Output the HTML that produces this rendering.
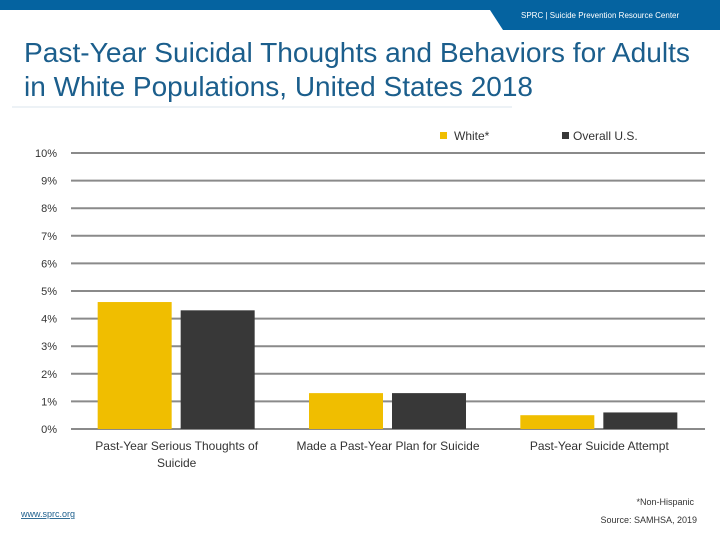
<!DOCTYPE html>
<html><head><meta charset="utf-8"><style>
body{margin:0;width:720px;height:540px;overflow:hidden;background:#fff;font-family:"Liberation Sans",sans-serif;position:relative}
.abs{position:absolute}
</style></head><body>
<svg class="abs" style="left:0;top:0" width="720" height="540">
<rect x="0" y="0" width="720" height="10" fill="#0563a0"/>
<polygon points="490,10 720,10 720,30 503,30" fill="#0563a0"/>
<text x="521" y="18" font-size="8" fill="#fff">SPRC  |  Suicide Prevention Resource Center</text>
<text x="24" y="62" font-size="28" fill="#1b5e8c" textLength="666" lengthAdjust="spacingAndGlyphs">Past-Year Suicidal Thoughts and Behaviors for Adults</text>
<text x="24" y="96" font-size="28" fill="#1b5e8c">in White Populations, United States 2018</text>
<line x1="12" y1="107" x2="512" y2="107" stroke="#dbe6ee" stroke-width="1"/>
<rect x="440" y="132" width="7" height="7" fill="#f0be00"/>
<text x="454" y="140" font-size="12" fill="#333">White*</text>
<rect x="562" y="132" width="7" height="7" fill="#383838"/>
<text x="573" y="140" font-size="12" fill="#333">Overall U.S.</text>
<g id="chart"></g>
<text x="694" y="505" font-size="9" fill="#333" text-anchor="end">*Non-Hispanic</text>
<text x="697" y="523" font-size="9" fill="#333" text-anchor="end">Source: SAMHSA, 2019</text>
<text x="21" y="517" font-size="9" fill="#1b5e8c" text-decoration="underline">www.sprc.org</text>
</svg>
<script>
const categories=[["Past-Year Serious Thoughts of","Suicide"],["Made a Past-Year Plan for Suicide"],["Past-Year Suicide Attempt"]];
const whiteValues=[4.6,1.3,0.5];
const overallValues=[4.3,1.3,0.6];
const tickValues=[0,1,2,3,4,5,6,7,8,9,10];
const tickLabels=["0%","1%","2%","3%","4%","5%","6%","7%","8%","9%","10%"];
const NS="http://www.w3.org/2000/svg";
const g=document.getElementById('chart');
const x0=71,x1=705,yBase=429,yTop=153,vmax=10;
const y=v=>yBase-(v/vmax)*(yBase-yTop);
const gw=(x1-x0)/categories.length;
const cx=i=>x0+gw*(i+0.5);
function mk(t,a){const e=document.createElementNS(NS,t);for(const k in a)e.setAttribute(k,a[k]);g.appendChild(e);return e;}
tickValues.forEach((v,i)=>{
 const l=mk('line',{x1:x0,x2:x1,y1:y(v),y2:y(v),stroke:'#8a8a8a','stroke-width':2});
 
 
 const t=mk('text',{x:57,y:y(v)+4,'font-size':11,fill:'#333','text-anchor':'end'});
 t.textContent=tickLabels[i];
 
 
});
categories.forEach((c,i)=>{
 const b1=mk('rect',{x:cx(i)-79,y:y(whiteValues[i]),width:74,height:yBase-y(whiteValues[i]),fill:'#f0be00'});
 
 
 const b2=mk('rect',{x:cx(i)+4,y:y(overallValues[i]),width:74,height:yBase-y(overallValues[i]),fill:'#383838'});
 
 
 c.forEach((ln,j)=>{
  const t=mk('text',{x:cx(i),y:450+j*17,'font-size':12,fill:'#333','text-anchor':'middle'});
  t.textContent=ln;
  
  
 });
});
</script>
</body></html>
